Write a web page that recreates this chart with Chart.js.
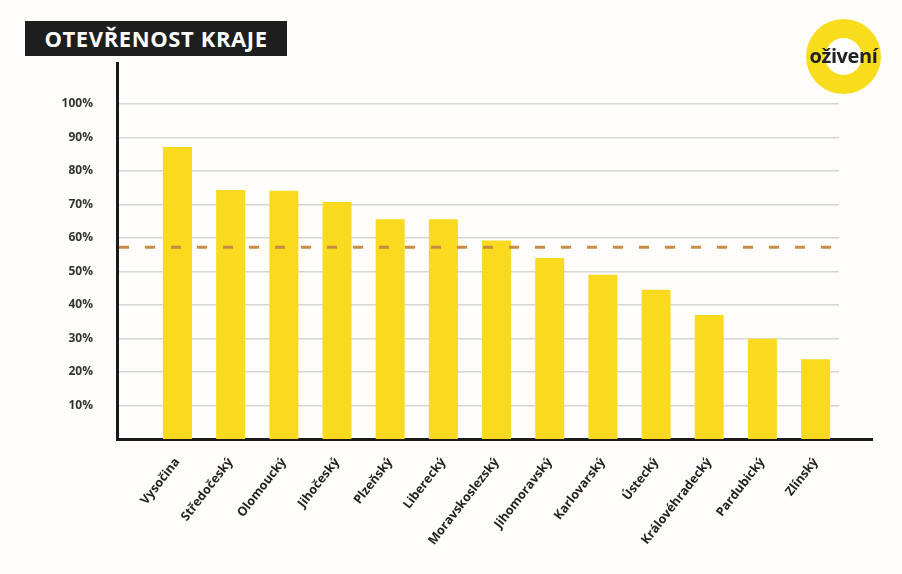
<!DOCTYPE html>
<html>
<head>
<meta charset="utf-8">
<script src="https://cdn.jsdelivr.net/npm/chart.js@4"></script>
<style>
    html, body { margin: 0; padding: 0; background: #fffdfb; }
    #wrap { position: relative; width: 902px; height: 574px; overflow: hidden; }
    #title {
        position: absolute; left: 25px; top: 21px; width: 262px; height: 35px;
        background: #1e1e1e; color: #fff; font: bold 22px "Open Sans", sans-serif;
        line-height: 35px; text-align: center; letter-spacing: 0.6px;
    }
    #logo {
        position: absolute; left: 806px; top: 19px; width: 75px; height: 75px;
        border-radius: 50%; background: #f9dc1c;
    }
    #logo .hole {
        position: absolute; left: 19px; top: 19px; width: 37px; height: 37px;
        border-radius: 50%; background: #fff;
    }
    #logo .txt {
        position: absolute; left: -8px; top: 23px; width: 91px; text-align: center;
        font: bold 20px "Open Sans", sans-serif; color: #222; letter-spacing: -0.4px;
    }
</style>
</head>
<body>
<div id="wrap">
    <canvas id="chart1" width="902" height="574"></canvas>
    <div id="title">OTEVŘENOST KRAJE</div>
    <div id="logo"><div class="hole"></div><div class="txt">oživení</div></div>
</div>
<script>
const regions = ['Vysočina', 'Středočeský', 'Olomoucký', 'Jihočeský', 'Plzeňský', 'Liberecký',
    'Moravskoslezský', 'Jihomoravský', 'Karlovarský', 'Ústecký', 'Královéhradecký', 'Pardubický', 'Zlínský'];
const openness = [87.1, 74.3, 74.1, 70.7, 65.6, 65.6, 59.2, 54.0, 49.0, 44.5, 37.0, 29.9, 23.8];
const averageValue = 57.2;
const yTicks = [10, 20, 30, 40, 50, 60, 70, 80, 90, 100];

const barColor = '#f9da1e';

// dashed average line + longer x axis line
const extrasPlugin = {
    id: 'extras',
    afterDatasetsDraw(chart) {
        const { ctx, chartArea, scales } = chart;
        const y = scales.y.getPixelForValue(averageValue);
        ctx.save();
        ctx.strokeStyle = '#c98b45';
        ctx.lineWidth = 3;
        ctx.setLineDash([10, 16]);
        ctx.beginPath();
        ctx.moveTo(chartArea.left + 2, y);
        ctx.lineTo(chartArea.right, y);
        ctx.stroke();
        ctx.restore();
    },
    afterDraw(chart) {
        const { ctx, chartArea } = chart;
        ctx.save();
        ctx.strokeStyle = '#1a1a1a';
        ctx.lineWidth = 3;
        ctx.beginPath();
        ctx.moveTo(chartArea.right - 1, chartArea.bottom + 0.5);
        ctx.lineTo(chartArea.right + 34, chartArea.bottom + 0.5);
        ctx.stroke();
        ctx.restore();
    }
};

const ctx = document.getElementById('chart1').getContext('2d');
new Chart(ctx, {
    type: 'bar',
    data: {
        datasets: [{
            data: openness.map((v, i) => ({ x: i, y: v })),
            backgroundColor: barColor,
            borderWidth: 0,
            barPercentage: 1,
            categoryPercentage: 0.545
        }]
    },
    options: {
        responsive: false,
        animation: false,
        layout: { padding: { top: 63, right: 63, left: 0, bottom: 0 } },
        plugins: { legend: { display: false }, tooltip: { enabled: false } },
        scales: {
            x: {
                type: 'linear',
                offset: false,
                min: -1.137,
                max: 12.44,
                afterBuildTicks(scale) {
                    scale.ticks = regions.map((_, i) => ({ value: i }));
                },
                afterFit(scale) { scale.height = 135; },
                grid: { display: false, drawTicks: false },
                border: { color: '#1a1a1a', width: 3 },
                ticks: {
                    autoSkip: false,
                    minRotation: 52,
                    maxRotation: 52,
                    padding: 16,
                    color: '#222',
                    font: { family: 'Open Sans', weight: 'bold', size: 12.5 },
                    callback: (v) => regions[v]
                }
            },
            y: {
                min: 0,
                max: 112.2,
                afterBuildTicks(scale) {
                    scale.ticks = yTicks.map(v => ({ value: v }));
                },
                afterFit(scale) { scale.width = 117; },
                grid: { color: '#d6d6d6', lineWidth: 1.5, drawTicks: false },
                border: { color: '#1a1a1a', width: 3 },
                ticks: {
                    padding: 24,
                    color: '#333',
                    font: { family: 'Open Sans', weight: 'bold', size: 12 },
                    callback: (v) => v + '%'
                }
            }
        }
    },
    plugins: [extrasPlugin]
});
</script>
</body>
</html>
